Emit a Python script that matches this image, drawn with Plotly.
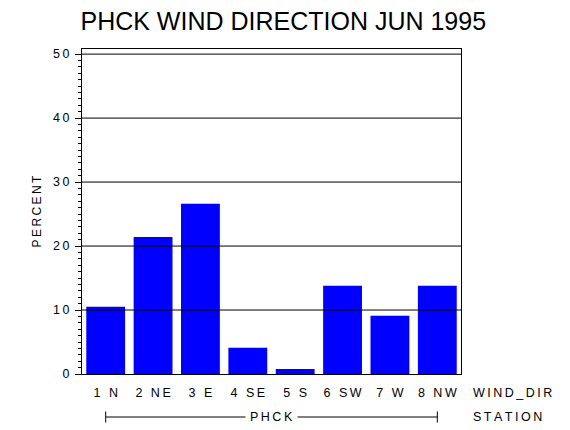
import plotly.graph_objects as go

categories = ["1 N", "2 NE", "3 E", "4 SE", "5 S", "6 SW", "7 W", "8 NW"]
percent = [10.5, 21.4, 26.6, 4.1, 0.8, 13.8, 9.1, 13.8]
y_ticks = [0, 10, 20, 30, 40, 50]
station = "PHCK"
title = "PHCK WIND DIRECTION JUN 1995"
x_label = "WIND_DIR"
group_label = "STATION"
y_label = "PERCENT"

TS = "\u2009"


def spaced(s):
    return TS.join(list(s))


n = len(categories)
x_idx = list(range(n))

fig = go.Figure()
fig.add_trace(go.Bar(
    x=x_idx, y=percent, width=0.82,
    marker=dict(color="#0000FF", line=dict(width=0)),
))

lf = "Liberation Sans"
fs = 12.5
fig.update_layout(
    width=570, height=430,
    margin=dict(l=82, r=109, t=49, b=56),
    paper_bgcolor="white", plot_bgcolor="white",
    showlegend=False, hovermode=False,
    title=dict(text=title, x=0.497, xref="container", xanchor="center",
               y=1 - 21 / 430, yref="container", yanchor="middle",
               font=dict(family=lf, size=25, color="black")),
    xaxis=dict(range=[-0.5, n - 0.5], tickmode="array", tickvals=x_idx,
               ticktext=[spaced(c) for c in categories],
               tickfont=dict(family=lf, size=fs, color="black"),
               ticks="", showgrid=False, zeroline=False, automargin=False,
               showline=True, linecolor="black", linewidth=1, mirror=True,
               ticklabelstandoff=7),
    yaxis=dict(range=[0, 50.8], tickmode="array", tickvals=y_ticks,
               ticktext=[spaced(str(v)) for v in y_ticks],
               tickfont=dict(family=lf, size=fs, color="black"),
               ticks="outside", ticklen=6, tickcolor="black", tickwidth=1,
               ticklabelstandoff=3,
               minor=dict(dtick=1, ticks="outside", ticklen=3, tickcolor="black", showgrid=False),
               showgrid=False, zeroline=False, automargin=False,
               showline=True, linecolor="black", linewidth=1, mirror=True,
               title=dict(text=spaced(y_label), font=dict(family=lf, size=12, color="black"),
                          standoff=8)),
)

# gridlines drawn above bars
for v in y_ticks[1:]:
    fig.add_shape(type="line", xref="paper", yref="y", x0=0, x1=1, y0=v, y1=v,
                  line=dict(color="black", width=1), layer="above")

plot_h = 430 - 49 - 56
bracket_shift = 43
yb = -bracket_shift / plot_h
tick_half = 5.5 / plot_h
xa = (0 + 0.5) / n
xb = (n - 1 + 0.5) / n
fig.add_shape(type="line", xref="paper", yref="paper", x0=xa, x1=xb, y0=yb, y1=yb,
              line=dict(color="black", width=1))
for xe in (xa, xb):
    fig.add_shape(type="line", xref="paper", yref="paper", x0=xe, x1=xe,
                  y0=yb - tick_half, y1=yb + tick_half, line=dict(color="black", width=1))

fig.add_annotation(text=spaced(station), xref="paper", yref="paper", x=(xa + xb) / 2, y=0,
                   yshift=-bracket_shift, showarrow=False, bgcolor="white", borderpad=4,
                   xanchor="center", yanchor="middle",
                   font=dict(family=lf, size=fs, color="black"))
fig.add_annotation(text=spaced(x_label), xref="paper", yref="paper", x=1, y=0,
                   xshift=10, yshift=-19, showarrow=False, xanchor="left", yanchor="middle",
                   font=dict(family=lf, size=fs, color="black"))
fig.add_annotation(text=spaced(group_label), xref="paper", yref="paper", x=1, y=0,
                   xshift=10, yshift=-bracket_shift, showarrow=False, xanchor="left", yanchor="middle",
                   font=dict(family=lf, size=fs, color="black"))

fig.write_html("out.html", config={"displayModeBar": False},
               post_script="document.body.style.margin='0px';")
